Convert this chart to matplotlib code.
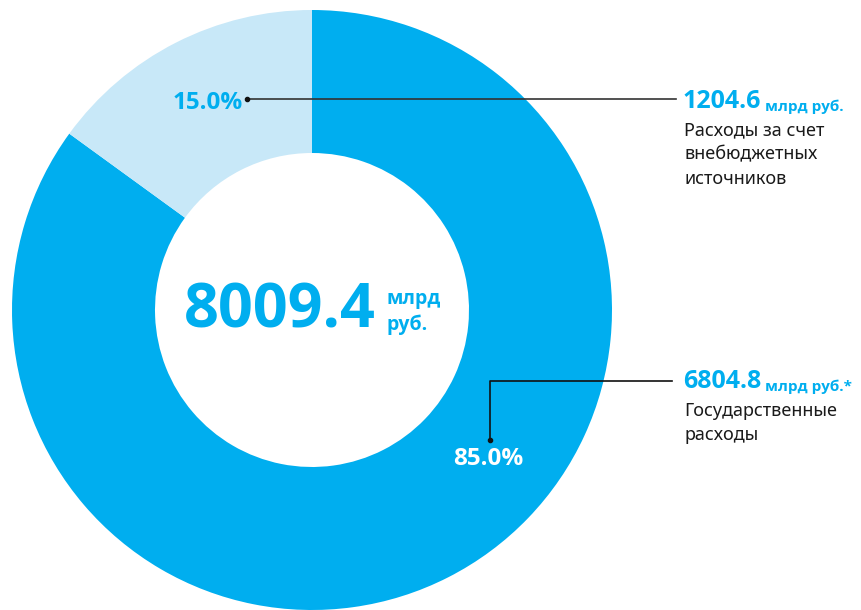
import matplotlib.pyplot as plt
import numpy as np

# data
shares = [85.0, 15.0]
amounts = [6804.8, 1204.6]
units = ["млрд руб.*", "млрд руб."]
captions = ["Государственные\nрасходы", "Расходы за счет\nвнебюджетных\nисточников"]
total = 8009.4
colors = ["#00AEEF", "#C8E8F8"]

W, H = 861, 610
BLUE = "#00AEEF"
plt.rcParams['font.family'] = ['Noto Sans', 'DejaVu Sans']
BOLD = ['Open Sans', 'DejaVu Sans']

fig = plt.figure(figsize=(W / 100, H / 100), dpi=100)
ax = fig.add_axes([0, 0, 1, 1])

cx, cy = 312, H - 310
R, r_in = 300, 157
ax.pie(shares, colors=colors, startangle=90, counterclock=False, radius=R,
       center=(cx, cy), wedgeprops=dict(width=R - r_in, linewidth=0), frame=True)
ax.set_xlim(0, W)
ax.set_ylim(0, H)
ax.axis('off')


def ypix(y):
    return H - y


# center total
ax.text(184, ypix(312), "{:.1f}".format(total), color=BLUE, fontsize=44, family=BOLD,
        fontweight='bold', ha='left', va='center')
ax.text(386, ypix(299), "млрд", color=BLUE, fontsize=14, fontweight='bold', family=BOLD,
        ha='left', va='center')
ax.text(386, ypix(325), "руб.", color=BLUE, fontsize=14, fontweight='bold', family=BOLD,
        ha='left', va='center')

# percent labels
ax.text(243, ypix(103), "{:.1f}%".format(shares[1]), color=BLUE, fontsize=17.5, family=BOLD,
        fontweight='bold', ha='right', va='center')
ax.text(453, ypix(459), "{:.1f}%".format(shares[0]), color="white", fontsize=17.5, family=BOLD,
        fontweight='bold', ha='left', va='center')

# leader lines
ax.plot([247, 676], [ypix(99), ypix(99)], color="#333333", lw=1.2)
ax.plot(247, ypix(99), 'o', color="#111111", ms=3)
ax.plot([490, 490, 672], [ypix(440), ypix(381), ypix(381)], color="#111111", lw=1.2)
ax.plot(490, ypix(440), 'o', color="#111111", ms=3)

# right side labels
for amt, unit, cap, ytop in [(amounts[1], units[1], captions[1], 101),
                             (amounts[0], units[0], captions[0], 382)]:
    t = ax.text(683, ypix(ytop), "{:.1f}".format(amt), color=BLUE, fontsize=18, family=BOLD,
                fontweight='bold', ha='left', va='center')
    ax.annotate(" " + unit, xy=(1, 0), xycoords=t, xytext=(0, 0), textcoords='offset points',
                color=BLUE, fontsize=11, fontweight='bold', family=BOLD, ha='left', va='bottom')
    ax.text(684, ypix(ytop + 20), cap, color="#1a1a1a", fontsize=13, ha='left', va='top',
            linespacing=1.45)

fig.savefig("out.png", dpi=100)
